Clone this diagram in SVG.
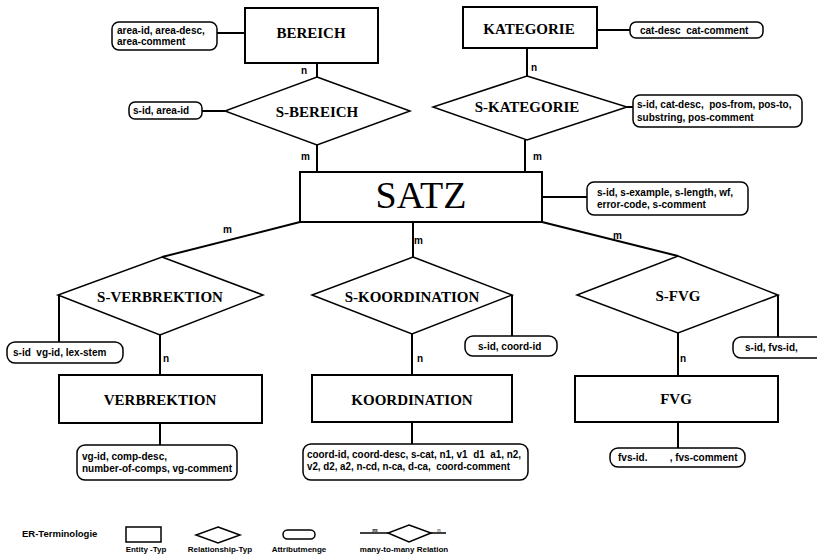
<svg xmlns="http://www.w3.org/2000/svg" width="817" height="559" viewBox="0 0 817 559">
<style>
.ent{fill:#fff;stroke:#000;stroke-width:2}
.rel{fill:#fff;stroke:#000;stroke-width:1.5}
.att{fill:#fff;stroke:#000;stroke-width:1.5}
.ln{stroke:#000;stroke-width:2;fill:none}
.et{font-family:"Liberation Serif",serif;font-weight:bold;font-size:15px;text-anchor:middle}
.at{font-family:"Liberation Sans",Arial,sans-serif;font-weight:bold;font-size:10px;white-space:pre}
.card{font-family:"Liberation Sans",Arial,sans-serif;font-weight:bold;font-size:10px}
.lg{font-family:"Liberation Sans",Arial,sans-serif;font-weight:bold;font-size:8px}
</style>
<rect width="817" height="559" fill="#fff"/>
<g id="connectors">
<line class="ln" x1="217" y1="33" x2="245" y2="33"/>
<line class="ln" x1="317" y1="63" x2="317" y2="77"/>
<line class="ln" x1="202" y1="111" x2="225" y2="111"/>
<line class="ln" x1="317" y1="145" x2="317" y2="172"/>
<line class="ln" x1="597" y1="30" x2="630" y2="30"/>
<line class="ln" x1="527" y1="48" x2="527" y2="76"/>
<line class="ln" x1="627" y1="107" x2="633" y2="107"/>
<line class="ln" x1="525" y1="140" x2="525" y2="172"/>
<line class="ln" x1="542" y1="197" x2="587" y2="197"/>
<line class="ln" x1="300" y1="222" x2="162" y2="257"/>
<line class="ln" x1="413" y1="222" x2="413" y2="257"/>
<line class="ln" x1="542" y1="222" x2="678" y2="256"/>
<line class="ln" x1="59" y1="295" x2="59" y2="342"/>
<line class="ln" x1="160" y1="335" x2="160" y2="375"/>
<line class="ln" x1="160" y1="423" x2="160" y2="445"/>
<line class="ln" x1="512" y1="295" x2="512" y2="336"/>
<line class="ln" x1="412" y1="334" x2="412" y2="375"/>
<line class="ln" x1="412" y1="423" x2="412" y2="444"/>
<line class="ln" x1="778" y1="295" x2="778" y2="337"/>
<line class="ln" x1="678" y1="333" x2="678" y2="376"/>
<line class="ln" x1="678" y1="422" x2="678" y2="448"/>
<text class="card" x="301" y="74">n</text>
<text class="card" x="301" y="160">m</text>
<text class="card" x="531" y="71">n</text>
<text class="card" x="533" y="160">m</text>
<text class="card" x="223" y="233">m</text>
<text class="card" x="414" y="244">m</text>
<text class="card" x="613" y="239">m</text>
<text class="card" x="163" y="362">n</text>
<text class="card" x="417" y="362">n</text>
<text class="card" x="680" y="362">n</text>
</g>
<g id="BEREICH">
<rect class="ent" x="245" y="8" width="133" height="55"/>
<text class="et" x="311" y="38">BEREICH</text>
</g>
<g id="attr-bereich">
<rect class="att" x="112" y="22" width="105" height="28" rx="7"/>
<text class="at" x="117" y="34">area-id, area-desc,</text>
<text class="at" x="117" y="45">area-comment</text>
</g>
<g id="S-BEREICH">
<polygon class="rel" points="317,77 410,111 317,145 225,111"/>
<text class="et" x="317" y="117">S-BEREICH</text>
</g>
<g id="attr-s-bereich">
<rect class="att" x="129" y="102" width="73" height="17" rx="6"/>
<text class="at" x="133" y="114">s-id, area-id</text>
</g>
<g id="KATEGORIE">
<rect class="ent" x="463" y="7" width="134" height="41"/>
<text class="et" x="529" y="34">KATEGORIE</text>
</g>
<g id="attr-kategorie">
<rect class="att" x="630" y="22" width="133" height="16" rx="6"/>
<text class="at" x="640" y="34">cat-desc  cat-comment</text>
</g>
<g id="S-KATEGORIE">
<polygon class="rel" points="527,76 627,107 527,140 433,107"/>
<text class="et" x="527" y="112">S-KATEGORIE</text>
</g>
<g id="attr-s-kategorie">
<rect class="att" x="633" y="95" width="169" height="32" rx="7"/>
<text class="at" x="637" y="108">s-id, cat-desc,  pos-from, pos-to,</text>
<text class="at" x="637" y="121">substring, pos-comment</text>
</g>
<g id="SATZ">
<rect class="ent" x="300" y="172" width="242" height="50"/>
<text x="421" y="208" font-family="Liberation Serif,serif" font-size="38" text-anchor="middle">SATZ</text>
</g>
<g id="attr-satz">
<rect class="att" x="587" y="182" width="161" height="33" rx="7"/>
<text class="at" x="597" y="196">s-id, s-example, s-length, wf,</text>
<text class="at" x="597" y="208">error-code, s-comment</text>
</g>
<g id="S-VERBREKTION">
<polygon class="rel" points="162,257 263,295 160,335 58,295"/>
<text class="et" x="160" y="302">S-VERBREKTION</text>
</g>
<g id="attr-s-verbrektion">
<rect class="att" x="7" y="342" width="116" height="21" rx="8"/>
<text class="at" x="13" y="356">s-id  vg-id, lex-stem</text>
</g>
<g id="VERBREKTION">
<rect class="ent" x="59" y="375" width="203" height="48"/>
<text class="et" x="160" y="405">VERBREKTION</text>
</g>
<g id="attr-verbrektion">
<rect class="att" x="77" y="445" width="160" height="35" rx="8"/>
<text class="at" x="82" y="460">vg-id, comp-desc,</text>
<text class="at" x="82" y="472">number-of-comps, vg-comment</text>
</g>
<g id="S-KOORDINATION">
<polygon class="rel" points="413,257 512,295 412,334 312,295"/>
<text class="et" x="412" y="302">S-KOORDINATION</text>
</g>
<g id="attr-s-koordination">
<rect class="att" x="465" y="336" width="92" height="20" rx="8"/>
<text class="at" x="478" y="350">s-id, coord-id</text>
</g>
<g id="KOORDINATION">
<rect class="ent" x="312" y="375" width="200" height="47"/>
<text class="et" x="412" y="405">KOORDINATION</text>
</g>
<g id="attr-koordination">
<rect class="att" x="303" y="444" width="225" height="36" rx="8"/>
<text class="at" x="307" y="458" textLength="214" lengthAdjust="spacingAndGlyphs">coord-id, coord-desc, s-cat, n1, v1  d1  a1, n2,</text>
<text class="at" x="307" y="470" textLength="203" lengthAdjust="spacingAndGlyphs">v2, d2, a2, n-cd, n-ca, d-ca,  coord-comment</text>
</g>
<g id="S-FVG">
<polygon class="rel" points="678,256 778,295 678,333 577,295"/>
<text class="et" x="678" y="301">S-FVG</text>
</g>
<g id="attr-s-fvg">
<rect class="att" x="733" y="337" width="100" height="21" rx="8"/>
<text class="at" x="745" y="351">s-id, fvs-id,</text>
</g>
<g id="FVG">
<rect class="ent" x="575" y="376" width="203" height="46" stroke-width="2.5"/>
<text class="et" x="676" y="404">FVG</text>
</g>
<g id="attr-fvg">
<rect class="att" x="610" y="448" width="135" height="19" rx="8"/>
<text class="at" x="618" y="461">fvs-id.        , fvs-comment</text>
</g>
<g id="legend">
<text x="22" y="537" font-family="Liberation Sans,sans-serif" font-weight="bold" font-size="9.5">ER-Terminologie</text>
<rect x="126" y="527" width="35" height="15" fill="#fff" stroke="#000" stroke-width="1.5"/>
<text class="lg" x="146" y="552" text-anchor="middle">Entity -Typ</text>
<polygon points="218,527 240,535 218,543 196,535" fill="#fff" stroke="#000" stroke-width="1.5"/>
<text class="lg" x="220" y="552" text-anchor="middle">Relationship-Typ</text>
<rect x="283" y="530" width="32" height="9" rx="4.5" fill="#fff" stroke="#000" stroke-width="1.5"/>
<text class="lg" x="299" y="552" text-anchor="middle">Attributmenge</text>
<line x1="360" y1="533" x2="388" y2="533" stroke="#000" stroke-width="1.5"/>
<polygon points="409,525 431,533 409,542 388,533" fill="#fff" stroke="#000" stroke-width="1.5"/>
<line x1="431" y1="533" x2="446" y2="533" stroke="#000" stroke-width="1.5"/>
<text x="375" y="532" font-family="Liberation Sans,sans-serif" font-weight="bold" font-size="6" text-anchor="middle">m</text>
<text x="439" y="532" font-family="Liberation Sans,sans-serif" font-size="6" text-anchor="middle">n</text>
<text class="lg" x="404" y="552" text-anchor="middle">many-to-many Relation</text>
</g>
</svg>
